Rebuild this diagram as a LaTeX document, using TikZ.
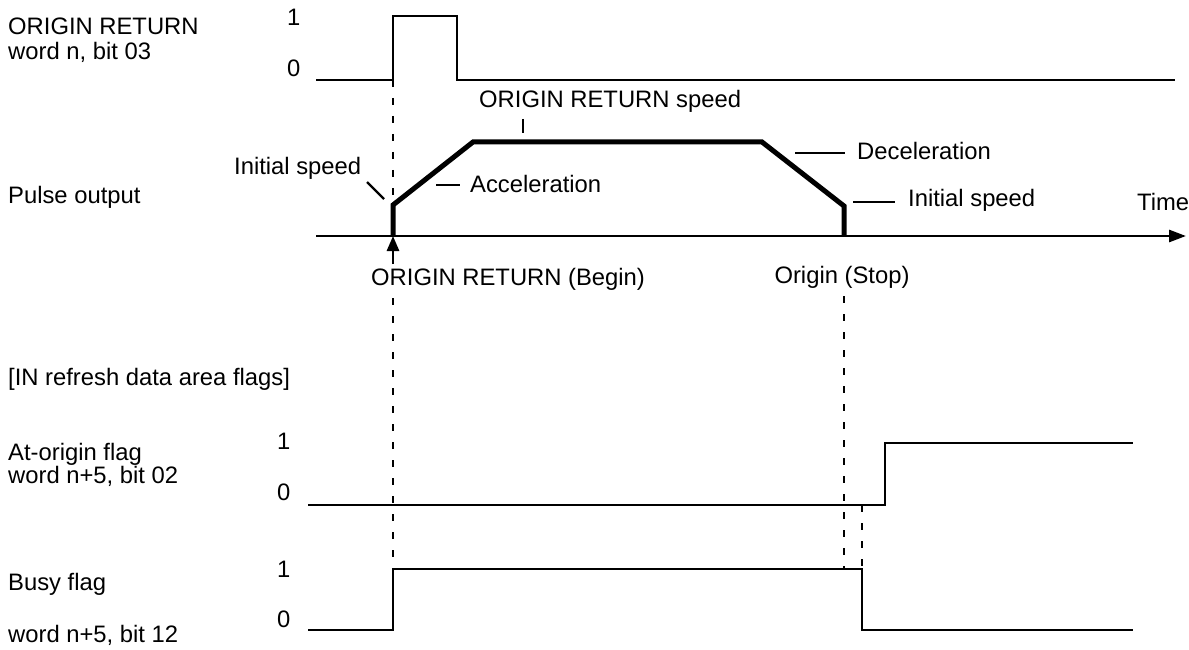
\documentclass[tikz,border=0pt]{standalone}
\usepackage{fontspec}
\setmainfont{Liberation Sans}
\usetikzlibrary{arrows.meta, positioning}

\begin{document}
\begin{tikzpicture}[
    x=1pt, y=-1pt,
    font=\fontsize{23.8}{27}\selectfont,
    % Style definitions
    sidelabel/.style={anchor=base west, inner sep=0pt},
    levellabel/.style={anchor=base west, inner sep=0pt},
    signal/.style={line width=2.8pt},
    profile/.style={line width=5pt},
    guide/.style={line width=2.8pt, dash pattern=on 7pt off 11pt},
    leader/.style={line width=2.4pt},
    axisarrow/.style={-{Triangle[length=17pt, width=12pt]}, line width=2.8pt},
    startarrow/.style={-{Triangle[length=15pt, width=12pt]}, line width=2.8pt}
]
    \useasboundingbox (0,0) rectangle (1189,650);

    % === ORIGIN RETURN bit ===
    \node (or_name) [sidelabel] at (8,35) {ORIGIN RETURN};
    \node (or_word) [sidelabel] at (8,60) {word n, bit 03};
    \node (or_one) [levellabel] at (287,26) {1};
    \node (or_zero) [levellabel] at (287,77) {0};
    \coordinate (or_rise) at (393,80);
    \draw [signal] (316,80) -- (or_rise) -- (393,16) -- (457,16) -- (457,80) -- (1175,80);

    % === Pulse output ===
    \node (po_name) [sidelabel] at (8,203) {Pulse output};
    \coordinate (po_begin) at (393,236);
    \coordinate (po_init) at (393,205);
    \coordinate (po_stop) at (844,236);
    \draw [guide] (or_rise) -- (po_init);
    \draw [axisarrow] (316,236) -- (1186,236);
    \draw [profile] (po_begin) -- (po_init) -- (473,142) -- (762,142) -- (844,206) -- (po_stop);
    \node (po_time) [sidelabel] at (1137,210) {Time};

    % labels on the speed profile
    \node (lb_initl) [sidelabel] at (234,175) {Initial speed};
    \draw [leader] (367,182) -- (384,199);
    \node (lb_speed) [sidelabel] at (479,108) {ORIGIN RETURN speed};
    \draw [leader] (523,119) -- (523,133);
    \node (lb_accel) [sidelabel] at (470,193) {Acceleration};
    \draw [leader] (436,185) -- (460,185);
    \node (lb_decel) [sidelabel] at (857,160) {Deceleration};
    \draw [leader] (795,153) -- (845,153);
    \node (lb_initr) [sidelabel] at (908,206) {Initial speed};
    \draw [leader] (853,202) -- (895,202);

    % events under the time axis
    \coordinate (ev_tail) at (393,264);
    \draw [startarrow] (ev_tail) -- (po_begin);
    \node (ev_begin) [sidelabel] at (371,285) {ORIGIN RETURN (Begin)};
    \node (ev_stop) [anchor=base, inner sep=0pt] at (842,283) {Origin (Stop)};

    % === IN refresh data area flags ===
    \node (in_title) [sidelabel] at (8,385) {[IN refresh data area flags]};

    % At-origin flag
    \node (ao_name) [sidelabel] at (8,460) {At-origin flag};
    \node (ao_word) [sidelabel] at (8,483) {word n+5, bit 02};
    \node (ao_one) [levellabel] at (277,449) {1};
    \node (ao_zero) [levellabel] at (277,500) {0};
    \coordinate (ao_mark) at (862,505);
    \draw [signal] (308,505) -- (885,505) -- (885,443) -- (1133,443);

    % Busy flag
    \node (bf_name) [sidelabel] at (8,590) {Busy flag};
    \node (bf_word) [sidelabel] at (8,642) {word n+5, bit 12};
    \node (bf_one) [levellabel] at (277,577) {1};
    \node (bf_zero) [levellabel] at (277,627) {0};
    \coordinate (bf_rise) at (393,569);
    \coordinate (bf_stop) at (844,569);
    \coordinate (bf_fall) at (862,569);
    \draw [signal] (308,630) -- (393,630) -- (bf_rise) -- (bf_fall) -- (862,630) -- (1133,630);

    % dashed guides
    \draw [guide] (393,298) -- (bf_rise);
    \draw [guide] (844,296) -- (bf_stop);
    \draw [guide] (ao_mark) -- (bf_fall);

\end{tikzpicture}
\end{document}
